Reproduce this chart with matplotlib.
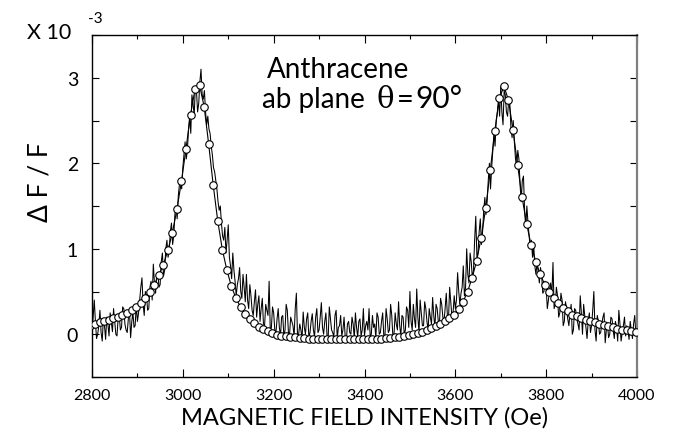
import numpy as np
import matplotlib
matplotlib.use("Agg")
import matplotlib.pyplot as plt
from matplotlib.ticker import FixedLocator, MultipleLocator, FuncFormatter

# ---------------- data ----------------
field_start = 2800          # Oe, first point of the measured trace
field_step = 2.5            # Oe between measured points

# measured trace at 2800, 2805, ... 4000 Oe
measured_on_grid = [
    # 2800 - 2895
    0.05, 0.40, -0.05, 0.10, 0.02, 0.18, -0.06, 0.12, 0.25, 0.03,
    0.15, -0.02, 0.22, 0.08, 0.30, 0.05, 0.18, -0.04, 0.26, 0.10,
    # 2900 - 2995
    0.15, 0.40, 0.66, 0.22, 0.45, 0.30, 0.62, 0.82, 0.48, 0.72,
    0.58, 0.95, 0.75, 1.10, 0.98, 1.30, 1.15, 1.50, 1.62, 1.80,
    # 3000 - 3095
    1.95, 2.25, 2.15, 2.55, 2.80, 2.55, 2.85, 2.70, 3.10, 2.75,
    2.60, 2.55, 2.35, 2.10, 1.90, 1.70, 1.45, 1.30, 1.10, 0.95,
    # 3100 - 3195
    1.28, 0.80, 0.95, 0.62, 0.58, 0.78, 0.42, 0.55, 0.70, 0.30,
    0.45, 0.22, 0.52, 0.35, 0.15, 0.42, 0.10, 0.28, 0.62, 0.08,
    # 3200 - 3295
    0.25, 0.02, 0.30, -0.02, 0.22, 0.05, 0.28, 0.00, 0.15, -0.03,
    0.48, 0.00, 0.05, 0.26, 0.00, 0.25, 0.02, 0.24, -0.03, 0.30,
    # 3300 - 3395
    0.05, 0.37, 0.00, 0.25, -0.04, 0.18, 0.02, 0.22, -0.05, 0.10,
    -0.02, 0.20, -0.08, 0.15, 0.00, 0.12, 0.25, -0.03, 0.18, 0.05,
    # 3400 - 3495
    -0.02, 0.15, 0.30, 0.00, 0.08, -0.04, 0.20, 0.02, 0.25, -0.03,
    0.18, 0.05, 0.22, 0.00, 0.12, 0.38, -0.02, 0.20, 0.05, 0.28,
    # 3500 - 3595
    0.50, 0.05, 0.18, 0.53, 0.02, 0.25, 0.10, 0.30, 0.05, 0.20,
    0.43, 0.08, 0.30, 0.12, 0.35, 0.15, 0.48, 0.18, 0.38, 0.25,
    # 3600 - 3695
    0.30, 0.72, 0.35, 0.55, 0.45, 1.00, 0.60, 0.85, 0.75, 1.38,
    0.95, 1.35, 1.20, 1.60, 1.55, 2.00, 1.95, 2.35, 2.50, 2.75,
    # 3700 - 3795
    2.90, 2.45, 2.80, 2.55, 2.70, 2.30, 2.25, 1.95, 2.05, 1.55,
    1.85, 1.25, 1.30, 1.00, 0.90, 0.80, 0.85, 0.60, 0.70, 0.50,
    # 3800 - 3895
    0.55, 0.40, 0.60, 0.84, 0.35, 0.45, 0.25, 0.40, 0.15, 0.30,
    0.10, 0.35, 0.05, 0.28, 0.12, 0.45, 0.00, 0.22, -0.05, 0.25,
    # 3900 - 4000
    0.10, 0.50, -0.08, 0.15, 0.02, 0.20, -0.10, 0.12, 0.00, 0.18,
    -0.05, 0.08, 0.28, -0.08, 0.10, -0.02, 0.05, 0.15, -0.05, 0.22,
    0.10,
]

# measured trace at the half steps 2802.5, 2807.5, ... 3997.5 Oe
measured_half_steps = [
    0.20, 0.15, 0.00, 0.28, -0.08, 0.10, 0.20, -0.02, 0.14, 0.30,
    0.00, 0.18, 0.05, 0.32, 0.12, 0.02, 0.28, 0.14, 0.08, 0.35,
    0.25, 0.55, 0.35, 0.50, 0.28, 0.55, 0.40, 0.60, 0.70, 0.55,
    0.85, 0.68, 1.00, 0.90, 1.20, 1.05, 1.40, 1.35, 1.75, 1.70,
    2.10, 2.05, 2.40, 2.35, 2.70, 2.90, 2.60, 2.95, 2.80, 2.85,
    2.45, 2.40, 2.20, 1.95, 1.80, 1.55, 1.50, 1.15, 1.25, 1.10,
    0.90, 0.65, 0.75, 0.45, 0.65, 0.50, 0.70, 0.38, 0.40, 0.58,
    0.28, 0.38, 0.20, 0.45, 0.30, 0.12, 0.35, 0.22, 0.05, 0.32,
    0.05, 0.18, 0.08, 0.20, -0.03, 0.35, 0.02, 0.20, 0.10, 0.30,
    -0.02, 0.12, -0.05, 0.08, 0.18, -0.04, 0.15, 0.05, 0.20, 0.02,
    0.20, 0.08, 0.15, -0.02, 0.32, 0.05, -0.03, 0.28, 0.08, 0.22,
    0.05, -0.03, 0.12, 0.02, 0.20, -0.05, 0.08, 0.15, -0.02, 0.30,
    0.10, 0.05, -0.03, 0.22, 0.12, 0.25, 0.00, 0.15, -0.02, 0.30,
    0.02, 0.35, -0.03, 0.25, 0.05, 0.10, 0.22, 0.00, 0.32, 0.08,
    0.15, 0.35, 0.08, 0.20, 0.40, 0.10, 0.38, 0.15, 0.30, 0.12,
    0.22, 0.35, 0.15, 0.42, 0.20, 0.30, 0.22, 0.55, 0.20, 0.45,
    0.40, 0.50, 0.48, 0.80, 0.55, 0.70, 0.95, 0.65, 1.10, 0.90,
    1.20, 1.05, 1.45, 1.40, 1.80, 1.70, 2.15, 2.20, 2.60, 2.55,
    2.60, 2.85, 2.60, 2.75, 2.40, 2.50, 2.05, 2.15, 1.75, 1.80,
    1.45, 1.50, 1.15, 1.10, 1.05, 0.70, 0.72, 0.78, 0.48, 0.62,
    0.30, 0.52, 0.45, 0.30, 0.55, 0.20, 0.48, 0.10, 0.38, 0.18,
    0.25, 0.00, 0.30, 0.18, 0.05, 0.25, 0.35, 0.08, 0.15, 0.02,
    0.28, 0.05, 0.22, 0.00, 0.12, 0.25, 0.05, -0.04, 0.20, 0.05,
    0.15, -0.08, 0.12, 0.02, 0.20, 0.10, -0.06, 0.05, 0.12, 0.00,
]

fit_start = 2797            # Oe, first open circle
fit_step = 10               # Oe between open circles
fit_signal = [
    0.11, 0.12, 0.14, 0.15, 0.17, 0.19, 0.20, 0.23, 0.25, 0.28,
    0.32, 0.37, 0.42, 0.50, 0.58, 0.69, 0.81, 0.98, 1.19, 1.46,
    1.79, 2.17, 2.57, 2.87, 2.91, 2.66, 2.22, 1.74, 1.32, 0.99,
    0.75, 0.56, 0.42, 0.32, 0.24, 0.18, 0.13, 0.09, 0.06, 0.035,
    0.01, -0.005, -0.02, -0.025, -0.03, -0.035, -0.04, -0.045, -0.05, -0.05,
    -0.055, -0.055, -0.06, -0.06, -0.06, -0.06, -0.06, -0.06, -0.06, -0.06,
    -0.06, -0.055, -0.055, -0.05, -0.05, -0.045, -0.04, -0.035, -0.03, -0.02,
    -0.01, 0.00, 0.015, 0.03, 0.05, 0.07, 0.10, 0.12, 0.15, 0.19,
    0.23, 0.30, 0.38, 0.50, 0.66, 0.86, 1.13, 1.48, 1.92, 2.38,
    2.76, 2.90, 2.74, 2.39, 1.98, 1.60, 1.29, 1.04, 0.85, 0.70,
    0.58, 0.49, 0.42, 0.36, 0.31, 0.27, 0.23, 0.21, 0.19, 0.17,
    0.16, 0.14, 0.12, 0.11, 0.095, 0.08, 0.065, 0.05, 0.045, 0.035,
    0.03,
]

x_tick_values = [2800, 3000, 3200, 3400, 3600, 3800, 4000]
y_tick_values = [0, 1, 2, 3]

# merge the two read-off lists into one ordered trace
measured_signal = []
for i, v in enumerate(measured_on_grid):
    measured_signal.append(v)
    if i < len(measured_half_steps):
        measured_signal.append(measured_half_steps[i])

# ---------------- figure ----------------
W, H = 678, 435
FONT = ["Lato", "DejaVu Sans"]
plt.rcParams["font.family"] = FONT

fig = plt.figure(figsize=(W / 100, H / 100), dpi=100)
L, R, T, B = 92, 637, 36, 378
ax = fig.add_axes([L / W, 1 - B / H, (R - L) / W, (B - T) / H])

x_meas = field_start + field_step * np.arange(len(measured_signal))
x_fit = fit_start + fit_step * np.arange(len(fit_signal))

ax.plot(x_meas, measured_signal, color="black", lw=0.75, zorder=2)
ax.plot(x_fit, fit_signal, color="black", lw=0.8, marker="o", ms=5.4,
        mfc="white", mec="black", mew=0.8, zorder=3)

ax.set_xlim(2800, 4000)
ax.set_ylim(-0.5, 3.5)

ax.xaxis.set_major_locator(FixedLocator(x_tick_values))
ax.xaxis.set_minor_locator(MultipleLocator(100))
ax.yaxis.set_major_locator(FixedLocator(y_tick_values))
ax.yaxis.set_minor_locator(MultipleLocator(0.5))
ax.yaxis.set_major_formatter(FuncFormatter(lambda v, p: f"{int(v)}"))

ax.tick_params(axis="x", which="major", direction="in", length=6, width=0.8,
               top=True, labelsize=11.5, pad=8)
ax.tick_params(axis="x", which="minor", direction="in", length=3, width=0.8, top=True)
ax.tick_params(axis="y", which="both", direction="in", length=5, width=0.8,
               right=True, labelsize=14, pad=10)

for side in ["left", "bottom", "top"]:
    ax.spines[side].set_linewidth(1.0)
    ax.spines[side].set_color("black")
ax.spines["right"].set_linewidth(1.6)
ax.spines["right"].set_color("#808080")

ax.set_xlabel("MAGNETIC FIELD INTENSITY (Oe)", fontsize=17, labelpad=3)

def px(x, y):
    return x / W, 1 - y / H

fig.text(*px(40, 182), "Δ F / F", rotation=90, fontsize=19,
         ha="center", va="center", family=["Lato", "DejaVu Sans"])
fig.text(*px(27, 39), "X 10", fontsize=15.5, ha="left", va="baseline")
fig.text(*px(88, 23), "-3", fontsize=11, ha="left", va="baseline")

fig.text(*px(267, 78), "Anthracene", fontsize=20, ha="left", va="baseline")
fig.text(*px(262, 108), "ab plane", fontsize=20, ha="left", va="baseline")
fig.text(*px(377, 108), "θ", fontsize=21, ha="left", va="baseline",
         family=["DejaVu Serif"])
fig.text(*px(397, 108), "=", fontsize=21, ha="left", va="baseline")
fig.text(*px(415, 108), "90°", fontsize=21.5, ha="left", va="baseline")

fig.savefig("out.png", dpi=100)
